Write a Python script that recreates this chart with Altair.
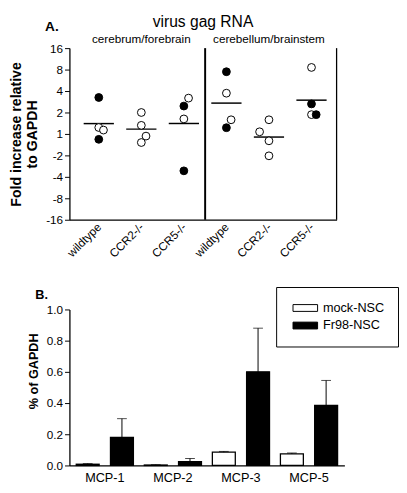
import json
import altair as alt
import pandas as pd

FONT = "Liberation Sans"

# ---------------- Panel A data ----------------
genotypes = ["wildtype", "CCR2-/-", "CCR5-/-"]
regions = ["cerebrum/forebrain", "cerebellum/brainstem"]

# group index = region * 3 + genotype
point_group = [0, 0, 0, 0, 1, 1, 1, 1, 2, 2, 2, 2,
               3, 3, 3, 3, 4, 4, 4, 4, 5, 5, 5, 5]
# position on the fold axis in doubling steps (0 -> 1, 1 -> 2, -1 -> -2, ...)
point_fold = [1.70, 0.30, 0.18, -0.25,
              1.00, 0.40, -0.10, -0.40,
              1.67, 1.30, 0.70, -1.72,
              2.90, 1.90, 0.66, 0.29,
              0.66, 0.10, -0.32, -1.02,
              3.10, 1.40, 0.90, 0.90]
point_filled = [1, 0, 0, 1, 0, 0, 0, 0, 0, 1, 0, 1,
                1, 0, 0, 1, 0, 0, 0, 0, 0, 1, 0, 1]
point_nudge = [0, 0, 1, 0, 0, 0, 1, 0, 1, 0, 0, 0,
               0, 0, 1, 0, 0, -2, 0, 0, 0, 0, 0, 1]
fold_ticks = [-4, -3, -2, -1, 0, 1, 2, 3, 4]

# ---------------- Panel B data ----------------
mcp = ["MCP-1", "MCP-2", "MCP-3", "MCP-5"]
series_names = ["mock-NSC", "Fr98-NSC"]
mock_mean = [0.008, 0.003, 0.085, 0.075]
mock_upper = [0.012, 0.005, 0.090, 0.080]
fr98_mean = [0.180, 0.025, 0.600, 0.385]
fr98_upper = [0.300, 0.045, 0.880, 0.545]
pct_ticks = [0.0, 0.2, 0.4, 0.6, 0.8, 1.0]

# ---------------- Panel A ----------------
WA, HA = 274, 176
dfa = pd.DataFrame({
    "g": point_group,
    "fold": point_fold,
    "filled": point_filled,
    "nudge": point_nudge,
    "region": [regions[g // 3] for g in point_group],
})
x_max = 5.59
xs = alt.Scale(domain=[-0.69, x_max], nice=False, zero=False)
ys = alt.Scale(domain=[-4, 4], nice=False, zero=False)

y_label_expr = ("datum.value == 0 ? '1' : (datum.value > 0 ? '' + pow(2, datum.value)"
                " : '-' + pow(2, -datum.value))")
x_label_expr = json.dumps(genotypes * 2) + "[datum.value]"

ax_ax = alt.Axis(
    values=list(range(6)), labelExpr=x_label_expr, labelAngle=-45,
    labelAlign="right", labelBaseline="middle", ticks=False, labelPadding=5,
    labelFontSize=12, grid=False, title=None, domainColor="black",
    domainWidth=1.3, labelColor="black")
ax_ay = alt.Axis(
    values=fold_ticks, labelExpr=y_label_expr, grid=False,
    title=["Fold increase  relative", "to GAPDH"], titleFontSize=14.5,
    titleFontWeight="bold", titleLineHeight=17, titlePadding=6,
    labelFontSize=12, labelPadding=2, tickSize=5, tickColor="black",
    domainColor="black", domainWidth=1.3, labelColor="black",
    titleColor="black")

points = alt.Chart(dfa).transform_calculate(
    xpos="datum.g + 0.11 * datum.nudge"
).mark_circle(size=64, stroke="black", strokeWidth=1, opacity=1).encode(
    x=alt.X("xpos:Q", scale=xs, axis=ax_ax),
    y=alt.Y("fold:Q", scale=ys, axis=ax_ay),
    fill=alt.condition("datum.filled == 1", alt.value("black"), alt.value("white")),
)

means = alt.Chart(dfa).mark_tick(orient="horizontal", size=31, thickness=1.5,
                                  color="black").encode(
    x=alt.X("g:Q", scale=xs, axis=ax_ax),
    y=alt.Y("mean(fold):Q", scale=ys, axis=ax_ay),
)

divider = alt.Chart(pd.DataFrame({"e": [len(genotypes) - 0.5]})).mark_rule(
    color="black", strokeWidth=2).encode(
    x=alt.X("e:Q", scale=xs, axis=ax_ax), y=alt.value(0), y2=alt.value(HA))
right_edge = alt.Chart(pd.DataFrame({"e": [x_max]})).mark_rule(
    color="black", strokeWidth=1.3).encode(
    x=alt.X("e:Q", scale=xs, axis=ax_ax), y=alt.value(0), y2=alt.value(HA))

region_text = alt.Chart(dfa).mark_text(fontSize=12, baseline="alphabetic",
                                       color="black").encode(
    x=alt.X("mean(g):Q", scale=xs, axis=ax_ax),
    y=alt.value(-5),
    text="region:N",
)

title_a = alt.Chart(pd.DataFrame({"t": ["virus gag RNA"]})).mark_text(
    fontSize=16, baseline="alphabetic", align="center", color="black").encode(
    x=alt.value(WA / 2), y=alt.value(-22), text="t:N")

letter_a = alt.Chart(pd.DataFrame({"t": ["A."]})).mark_text(
    fontSize=14, fontWeight="bold", baseline="alphabetic", align="left",
    color="black").encode(x=alt.value(-25), y=alt.value(-18), text="t:N")

panel_a = alt.layer(divider, right_edge, means, points, region_text, title_a,
                    letter_a).properties(width=WA, height=HA)

# ---------------- Panel B ----------------
WB, HB = 282, 160
dfb = pd.DataFrame({
    "gene": mcp * 2,
    "series": [series_names[0]] * 4 + [series_names[1]] * 4,
    "value": mock_mean + fr98_mean,
    "upper": mock_upper + fr98_upper,
})

ax_bx = alt.Axis(title=None, ticks=False, labelAngle=0, labelFontSize=13,
                 labelPadding=6, domainColor="black", domainWidth=1.3,
                 labelColor="black")
ax_by = alt.Axis(
    values=pct_ticks, format=".1f", grid=False, title="% of GAPDH",
    titleFontSize=13, titleFontWeight="bold", titlePadding=6, titleY=63,
    labelFontSize=12, tickSize=5, tickColor="black", domainColor="black",
    domainWidth=1.3, labelColor="black", titleColor="black")

xb = alt.X("gene:N", sort=mcp, scale=alt.Scale(paddingInner=0.16, paddingOuter=0.1),
           axis=ax_bx)
xob = alt.XOffset("series:N", sort=series_names, scale=alt.Scale(paddingInner=0.33))
ybs = alt.Scale(domain=[0, 1], nice=False)

bars = alt.Chart(dfb).mark_bar(stroke="black", strokeWidth=1.3).encode(
    x=xb, xOffset=xob,
    y=alt.Y("value:Q", scale=ybs, axis=ax_by),
    fill=alt.Fill("series:N", sort=series_names,
                  scale=alt.Scale(domain=series_names, range=["white", "black"]),
                  legend=alt.Legend(
                      orient="none", legendX=212, legendY=-23, title=None,
                      strokeColor="black", padding=14,
                      symbolType="M-0.6,-0.5H3V0.5H-0.6Z", symbolSize=196,
                      symbolStrokeColor="black", symbolStrokeWidth=1,
                      labelFontSize=13, labelOffset=19, rowPadding=3,
                      labelColor="black")),
)

err_rule = alt.Chart(dfb).mark_rule(color="black", strokeWidth=1).encode(
    x=xb, xOffset=xob, y=alt.Y("value:Q", scale=ybs, axis=ax_by), y2="upper:Q")
err_cap = alt.Chart(dfb).mark_tick(color="black", thickness=1, size=10,
                                   orient="horizontal").encode(
    x=xb, xOffset=xob, y=alt.Y("upper:Q", scale=ybs, axis=ax_by))

letter_b = alt.Chart(pd.DataFrame({"t": ["B."]})).mark_text(
    fontSize=13, fontWeight="bold", baseline="alphabetic", align="left",
    color="black").encode(x=alt.value(-35), y=alt.value(-11), text="t:N")

panel_b = alt.layer(bars, err_rule, err_cap, letter_b).properties(width=WB, height=HB)

chart = alt.vconcat(panel_a, panel_b, spacing=27).resolve_legend(
    fill="independent").properties(padding=0).configure(
    font=FONT).configure_view(stroke=None)

chart.save("out.html", embed_options={"renderer": "svg", "actions": False})
